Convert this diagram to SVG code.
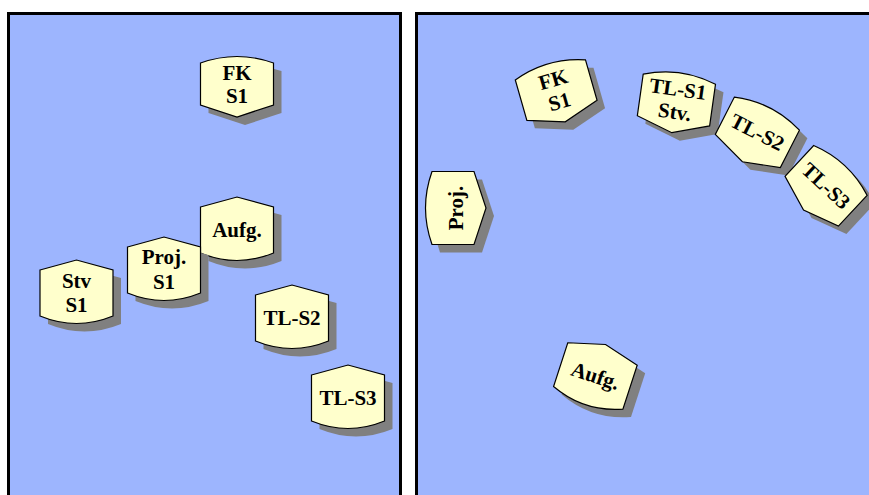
<svg xmlns="http://www.w3.org/2000/svg" xmlns:xlink="http://www.w3.org/1999/xlink" width="869" height="495" viewBox="0 0 869 495">
<style>
.panel{fill:#9DB5FE;stroke:#000;stroke-width:3}
.card{fill:#FFFFCC;stroke:#000;stroke-width:1.2}
.shadow{fill:#808080;stroke:none}
.t{font-family:"Liberation Serif","Times New Roman",serif;font-weight:bold;font-size:21px;fill:#000;text-anchor:middle}
</style>
<defs>
<path id="shA" d="M-36.5,-21 L0,-31 L36.5,-21 L36.5,25 Q0,40 -36.5,25 Z"/>
<path id="shB" d="M-36.5,-24 Q0,-37 36.5,-24 L36.5,18 L0,30 L-36.5,18 Z"/>
</defs>
<rect class="panel" x="8.5" y="13.5" width="392" height="495"/>
<rect class="panel" x="416.5" y="13.5" width="470" height="495"/>
<g id="connectors"/>
<!-- left panel -->
<g id="fk-s1-left">
<use xlink:href="#shB" class="shadow" transform="translate(245,95)"/>
<use xlink:href="#shB" class="card" transform="translate(237,87)"/>
<text class="t" x="237" y="80">FK</text>
<text class="t" x="237" y="103">S1</text>
</g>
<g id="aufg-left">
<use xlink:href="#shA" class="shadow" transform="translate(245,236)"/>
<use xlink:href="#shA" class="card" transform="translate(237,228)"/>
<text class="t" x="237" y="237">Aufg.</text>
</g>
<g id="proj-s1-left">
<use xlink:href="#shA" class="shadow" transform="translate(172,276)"/>
<use xlink:href="#shA" class="card" transform="translate(164,268)"/>
<text class="t" x="164" y="264">Proj.</text>
<text class="t" x="164" y="289">S1</text>
</g>
<g id="stv-s1-left">
<use xlink:href="#shA" class="shadow" transform="translate(84.5,299)"/>
<use xlink:href="#shA" class="card" transform="translate(76.5,291)"/>
<text class="t" x="76.5" y="288">Stv</text>
<text class="t" x="76.5" y="312">S1</text>
</g>
<g id="tl-s2-left">
<use xlink:href="#shA" class="shadow" transform="translate(300,324)"/>
<use xlink:href="#shA" class="card" transform="translate(292,316)"/>
<text class="t" x="292" y="325">TL-S2</text>
</g>
<g id="tl-s3-left">
<use xlink:href="#shA" class="shadow" transform="translate(356,404)"/>
<use xlink:href="#shA" class="card" transform="translate(348,396)"/>
<text class="t" x="348" y="405">TL-S3</text>
</g>
<!-- right panel -->
<g id="proj-right">
<use xlink:href="#shB" class="shadow" transform="translate(464,216) rotate(-90)"/>
<g transform="translate(456,208) rotate(-90)">
<use xlink:href="#shB" class="card"/>
<text class="t" x="0" y="7">Proj.</text>
</g>
</g>
<g id="fk-s1-right">
<use xlink:href="#shB" class="shadow" transform="translate(565,101) rotate(-16)"/>
<g transform="translate(557,93) rotate(-16)">
<use xlink:href="#shB" class="card"/>
<text class="t" x="0" y="-7">FK</text>
<text class="t" x="0" y="16">S1</text>
</g>
</g>
<g id="tl-s1-stv-right">
<use xlink:href="#shB" class="shadow" transform="translate(684,111) rotate(8)"/>
<g transform="translate(676,103) rotate(8)">
<use xlink:href="#shB" class="card"/>
<text class="t" x="0" y="-7">TL-S1</text>
<text class="t" x="0" y="16">Stv.</text>
</g>
</g>
<g id="tl-s2-right">
<use xlink:href="#shB" class="shadow" transform="translate(764,143) rotate(27)"/>
<g transform="translate(756,135) rotate(27)">
<use xlink:href="#shB" class="card"/>
<text class="t" x="0" y="4">TL-S2</text>
</g>
</g>
<g id="tl-s3-right">
<use xlink:href="#shB" class="shadow" transform="translate(832,196) rotate(43)"/>
<g transform="translate(824,188) rotate(43)">
<use xlink:href="#shB" class="card"/>
<text class="t" x="0" y="4">TL-S3</text>
</g>
</g>
<g id="aufg-right">
<use xlink:href="#shA" class="shadow" transform="translate(604,382) rotate(18)"/>
<g transform="translate(596,374) rotate(18)">
<use xlink:href="#shA" class="card"/>
<text class="t" x="0" y="9">Aufg.</text>
</g>
</g>
</svg>
